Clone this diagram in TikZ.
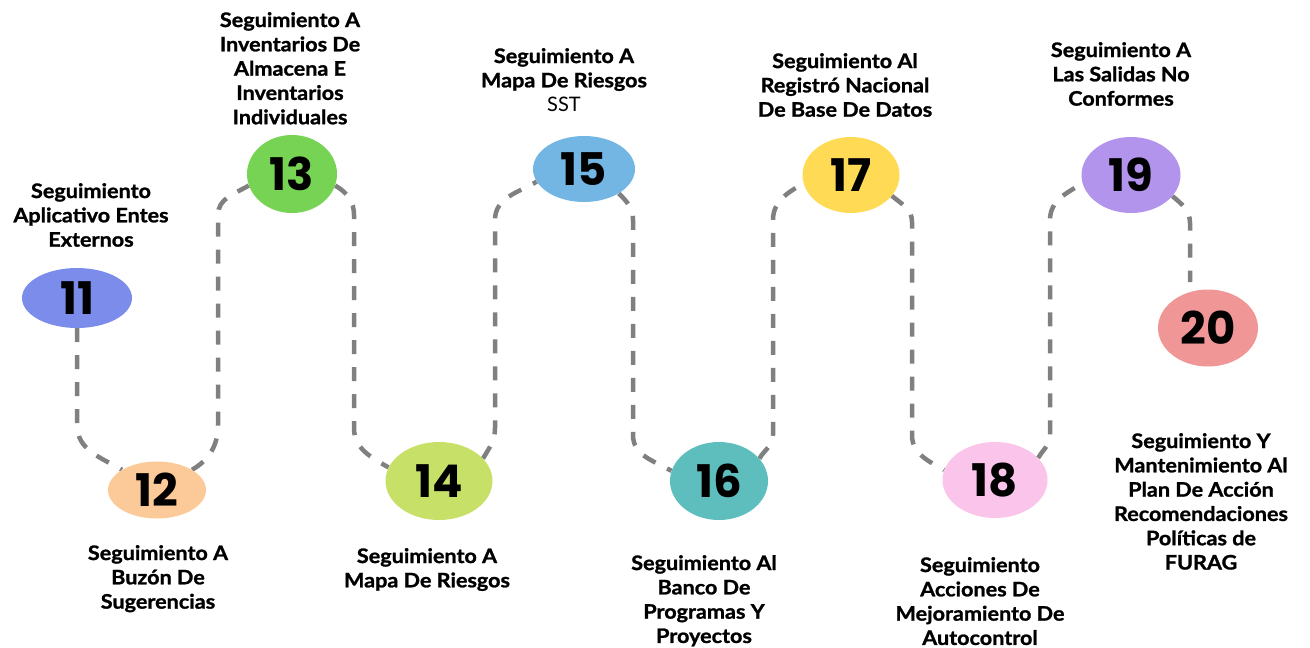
\documentclass[tikz,border=0pt]{standalone}
\usepackage{fontspec}
\setmainfont{Lato}[BoldFeatures={FakeBold=1.2,FakeStretch=1.08}]
\newfontfamily\numfont{Poppins}
\usetikzlibrary{shapes.geometric,backgrounds}
\definecolor{c11}{RGB}{123,140,235}
\definecolor{c12}{RGB}{252,202,152}
\definecolor{c13}{RGB}{118,211,83}
\definecolor{c14}{RGB}{198,224,104}
\definecolor{c15}{RGB}{115,182,227}
\definecolor{c16}{RGB}{94,190,190}
\definecolor{c17}{RGB}{255,219,85}
\definecolor{c18}{RGB}{251,196,235}
\definecolor{c19}{RGB}{178,148,236}
\definecolor{c20}{RGB}{240,150,150}
\definecolor{linegray}{RGB}{128,128,128}
\begin{document}
\begin{tikzpicture}[x=1pt,y=1pt,
  num/.style={ellipse, inner sep=0pt, font=\numfont\bfseries\fontsize{45}{45}\selectfont},
  lab/.style={anchor=north, align=center, inner sep=0pt, font=\bfseries\fontsize{20}{24.3}\selectfont},
  conn/.style={draw=linegray, line width=4.5pt, dash pattern=on 14pt off 13pt}]
\useasboundingbox (0,0) rectangle (1310,-648);

% number ellipses
\node[num, fill=c11, minimum width=110pt, minimum height=60pt] (n11) at (77,-298) {11};
\node[num, fill=c12, minimum width=98pt, minimum height=57pt] (n12) at (157,-490) {12};
\node[num, fill=c13, minimum width=90pt, minimum height=78pt] (n13) at (292,-174) {13};
\node[num, fill=c14, minimum width=107pt, minimum height=78pt] (n14) at (439,-481) {14};
\node[num, fill=c15, minimum width=102pt, minimum height=66pt] (n15) at (584,-169) {15};
\node[num, fill=c16, minimum width=98pt, minimum height=78pt] (n16) at (719,-481) {16};
\node[num, fill=c17, minimum width=97pt, minimum height=76pt] (n17) at (851,-175) {17};
\node[num, fill=c18, minimum width=105pt, minimum height=76pt] (n18) at (995,-480) {18};
\node[num, fill=c19, minimum width=99pt, minimum height=76pt] (n19) at (1131,-175) {19};
\node[num, fill=c20, minimum width=100pt, minimum height=77pt] (n20) at (1208,-328) {20};

\coordinate (e20) at (1190,-282);

% labels
\node[lab] (l11) at (91,-183) {Seguimiento\\Aplicativo Entes\\Externos};
\node[lab] (l13) at (290,-12) {Seguimiento A\\Inventarios De\\Almacena E\\Inventarios\\Individuales};
\node[lab] (l15) at (564,-48) {Seguimiento A\\Mapa De Riesgos\\{\mdseries SST}};
\node[lab] (l17) at (845,-53) {Seguimiento Al\\Registró Nacional\\De Base De Datos};
\node[lab] (l19) at (1121,-42) {Seguimiento A\\Las Salidas No\\Conformes};
\node[lab] (l12) at (158,-545) {Seguimiento A\\Buzón De\\Sugerencias};
\node[lab] (l14) at (427,-548) {Seguimiento A\\Mapa De Riesgos};
\node[lab] (l16) at (704,-555) {Seguimiento Al\\Banco De\\Programas Y\\Proyectos};
\node[lab] (l18) at (980,-557) {Seguimiento\\Acciones De\\Mejoramiento De\\Autocontrol};
\node[lab] (l20) at (1201,-433) {Seguimiento Y\\Mantenimiento Al\\Plan De Acción\\Recomendaciones\\Políticas de\\FURAG};

% dashed connectors
\begin{scope}[on background layer]
\draw[conn] (n11.south) -- (77,-425) to[out=-90,in=150] (n12.150);
\draw[conn] (n12.30) to[out=30,in=-90] (218,-425) -- (218,-215) to[out=90,in=210] (n13.195);
\draw[conn] (n13.-15) to[out=-30,in=90] (354,-215) -- (354,-428) to[out=-90,in=150] (n14.165);
\draw[conn] (n14.27) to[out=60,in=-90] (495,-428) -- (495,-220) to[out=90,in=210] (n15.195);
\draw[conn] (n15.-35) to[out=-45,in=90] (633,-220) -- (633,-435) to[out=-90,in=150] (n16.168);
\draw[conn] (n16.29) to[out=60,in=-90] (773,-435) -- (773,-220) to[out=90,in=210] (n17.190);
\draw[conn] (n17.-27) to[out=-40,in=90] (912,-222) -- (912,-435) to[out=-90,in=150] (n18.169);
\draw[conn] (n18.27) to[out=60,in=-90] (1050,-435) -- (1050,-220) to[out=90,in=210] (n19.190);
\draw[conn] (n19.-27) to[out=-40,in=90] (1190,-223) -- (e20);
\end{scope}
\end{tikzpicture}
\end{document}
